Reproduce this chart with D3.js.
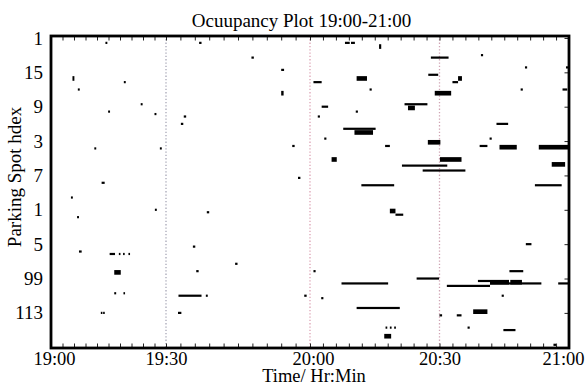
<!DOCTYPE html>
<html>
<head>
<meta charset="utf-8">
<script src="https://cdn.jsdelivr.net/npm/d3@7"></script>
<style>
  html, body { margin: 0; padding: 0; background: #fff; }
  svg { display: block; font-family: "Liberation Serif", "Times New Roman", serif; }
</style>
</head>
<body>
<svg id="chart" width="587" height="385"></svg>
<script>
// ---- labels ----
const chartTitle = "Ocuupancy Plot 19:00-21:00";
const xTitle = "Time/ Hr:Min";
const yTitle = "Parking Spot hdex";

// time axis: minutes after 19:00
const timeTicks = [0, 30, 60, 90, 120];
const timeTickLabels = ["19:00", "19:30", "20:00", "20:30", "21:00"];
const markerTimes = [30, 60, 90];

// spot axis
const spotTicks = [1, 15, 29, 43, 57, 71, 85, 99, 113];
const spotTickLabels = ["1", "15", "9", "3", "7", "1", "5", "99", "113"];

// sessions occupying one bay: [spot, start min, end min]
const singleBay = [
  [3, 14.2, 14.7], [3, 36.9, 37.4], [9, 47.8, 48.3], [14, 54.0, 54.6],
  [22, 7.0, 7.5], [19, 19.0, 19.5], [28, 23.4, 23.9], [31, 14.9, 15.4],
  [32, 27.0, 27.5], [33, 33.7, 34.2], [36, 33.1, 33.6], [46, 11.3, 11.8],
  [46, 28.4, 28.9], [45, 56.3, 56.8], [60, 13.2, 14.0], [58, 57.5, 58.0],
  [66, 5.2, 5.7], [74, 6.8, 7.3], [71, 27.1, 27.6], [72, 38.5, 39.0],
  [88, 7.3, 8.0], [86, 35.6, 36.1], [89, 15.3, 16.7], [89, 17.7, 18.1],
  [89, 18.8, 19.2], [89, 20.2, 20.6], [93, 44.4, 44.9], [96, 36.3, 36.8],
  [105, 16.5, 17.0], [105, 18.9, 19.3], [106, 32.6, 37.4], [106, 38.3, 38.7],
  [113, 13.0, 13.4], [113, 13.6, 14.0], [113, 32.5, 33.2],
  [3, 68.1, 69.2], [3, 69.5, 70.4], [9, 88.0, 92.1], [8, 99.6, 100.1],
  [13, 109.8, 110.3], [13, 119.3, 119.8], [16, 87.4, 89.7], [19, 60.8, 62.7],
  [19, 93.0, 94.3], [22, 73.8, 74.3], [22, 108.8, 109.3], [22, 118.5, 119.6],
  [28, 81.9, 87.2], [29, 62.7, 64.2], [31, 70.6, 71.1], [33, 61.8, 62.3],
  [36, 103.2, 105.9], [38, 67.7, 75.2], [42, 63.3, 63.8], [42, 101.6, 102.1],
  [45, 77.4, 78.5], [45, 99.3, 101.1], [53, 81.3, 91.8], [55, 86.1, 96.0],
  [61, 71.9, 79.5], [61, 112.1, 118.3], [73, 79.8, 81.6], [85, 110.0, 111.3],
  [96, 60.8, 61.3], [96, 106.2, 109.4], [99, 84.7, 89.9], [101, 67.3, 78.1],
  [102, 91.7, 101.7], [100, 98.9, 101.7], [101, 101.7, 113.6], [101, 117.5, 119.9],
  [106, 58.8, 59.3], [107, 62.6, 63.1], [106, 104.4, 104.9], [111, 70.8, 80.8],
  [114, 90.0, 90.6], [114, 94.0, 95.1], [119, 96.5, 97.0], [119, 77.5, 77.9],
  [119, 78.5, 78.9], [119, 79.5, 79.9], [120, 104.8, 107.6], [126, 116.4, 117.0]
];

// sessions spanning two neighbouring bays: [first spot, start min, end min]
const doubleBay = [
  [17, 5.6, 6.1], [23, 54.0, 54.5], [96, 16.5, 18.2], [4, 76.0, 76.5],
  [17, 70.8, 73.2], [17, 94.3, 95.2], [23, 88.9, 92.7], [29, 82.7, 84.3],
  [39, 70.3, 74.6], [43, 87.3, 90.2], [45, 103.9, 107.9], [45, 113.0, 120.0],
  [50, 65.0, 66.2], [50, 90.1, 95.1], [52, 116.0, 119.1], [71, 78.5, 79.8],
  [100, 101.7, 106.1], [100, 106.4, 109.1], [112, 97.8, 101.1], [122, 77.2, 78.8]
];

// ---- layout ----
const svg = d3.select("#chart");
const plot = { left: 51, top: 36, right: 569, bottom: 348 };
const base = new Date(2000, 0, 1, 19, 0, 0);
const at = m => new Date(base.getTime() + m * 60000);

const x = d3.scaleTime()
  .domain([at(0), at(30), at(60), at(120)])
  .range([plot.left, 166, 310, plot.right]);
const y = d3.scaleLinear()
  .domain([0.2, 127.3])
  .range([plot.top, plot.bottom]);

const rowH = 2.2;
const markerColors = ["#a7a6b6", "#dca2b4", "#cfa3b3"];

// dotted time markers
svg.append("g").selectAll("line")
  .data(markerTimes)
  .join("line")
  .attr("x1", d => x(at(d))).attr("x2", d => x(at(d)))
  .attr("y1", plot.top).attr("y2", plot.bottom)
  .attr("stroke", (d, i) => markerColors[i])
  .attr("stroke-width", 1.3)
  .attr("stroke-dasharray", "1.3,2");

// occupancy marks
const marks = svg.append("g").attr("fill", "#000");
marks.selectAll("rect.one")
  .data(singleBay)
  .join("rect")
  .attr("class", "one")
  .attr("x", d => x(at(d[1])))
  .attr("width", d => Math.max(1.6, x(at(d[2])) - x(at(d[1]))))
  .attr("y", d => y(d[0]) - rowH / 2)
  .attr("height", rowH);
marks.selectAll("rect.two")
  .data(doubleBay)
  .join("rect")
  .attr("class", "two")
  .attr("x", d => x(at(d[1])))
  .attr("width", d => Math.max(1.6, x(at(d[2])) - x(at(d[1]))))
  .attr("y", d => y(d[0]) - rowH / 2)
  .attr("height", d => y(d[0] + 1) - y(d[0]) + rowH);

// minor ticks every 3 minutes, top and bottom
const minor = d3.range(3, 120, 3).map(at);
svg.append("g")
  .attr("transform", `translate(0,${plot.bottom})`)
  .call(d3.axisBottom(x).tickValues(minor).tickSize(-4.5).tickFormat(""))
  .call(g => g.select(".domain").remove())
  .call(g => g.selectAll("line").attr("stroke", "#222"));
svg.append("g")
  .attr("transform", `translate(0,${plot.top})`)
  .call(d3.axisTop(x).tickValues(minor).tickSize(-4.5).tickFormat(""))
  .call(g => g.select(".domain").remove())
  .call(g => g.selectAll("line").attr("stroke", "#222"));

// right-side spot ticks
svg.append("g")
  .attr("transform", `translate(${plot.right},0)`)
  .call(d3.axisRight(y).tickValues(spotTicks).tickSize(-4.5).tickFormat(""))
  .call(g => g.select(".domain").remove())
  .call(g => g.selectAll("line").attr("stroke", "#222"));

// bottom time labels
const labelShift = [3, 0, 3, 0, -6];
svg.append("g")
  .attr("transform", `translate(0,${plot.bottom})`)
  .call(d3.axisBottom(x).tickValues(timeTicks.map(at))
    .tickFormat((d, i) => timeTickLabels[i]).tickSize(0).tickPadding(4))
  .call(g => g.select(".domain").remove())
  .call(g => g.selectAll("text")
    .attr("font-family", "Liberation Serif, Times New Roman, serif")
    .attr("font-size", 18.5).attr("fill", "#000")
    .attr("dx", (d, i) => labelShift[i]));

// left spot labels
svg.append("g")
  .attr("transform", `translate(${plot.left},0)`)
  .call(d3.axisLeft(y).tickValues(spotTicks)
    .tickFormat((d, i) => spotTickLabels[i]).tickSize(0).tickPadding(8))
  .call(g => g.select(".domain").remove())
  .call(g => g.selectAll("text")
    .attr("font-family", "Liberation Serif, Times New Roman, serif")
    .attr("font-size", 19).attr("fill", "#000"));

// frame
svg.append("rect")
  .attr("x", plot.left).attr("y", plot.top)
  .attr("width", plot.right - plot.left).attr("height", plot.bottom - plot.top)
  .attr("fill", "none").attr("stroke", "#000").attr("stroke-width", 2.8);

// titles
svg.append("text")
  .attr("x", 301.5).attr("y", 26.5)
  .attr("text-anchor", "middle").attr("font-size", 19)
  .text(chartTitle);
svg.append("text")
  .attr("x", 314).attr("y", 381.5)
  .attr("text-anchor", "middle").attr("font-size", 18.5)
  .text(xTitle);
svg.append("text")
  .attr("transform", "translate(21,177) rotate(-90)")
  .attr("text-anchor", "middle").attr("font-size", 19)
  .text(yTitle);
</script>
</body>
</html>
